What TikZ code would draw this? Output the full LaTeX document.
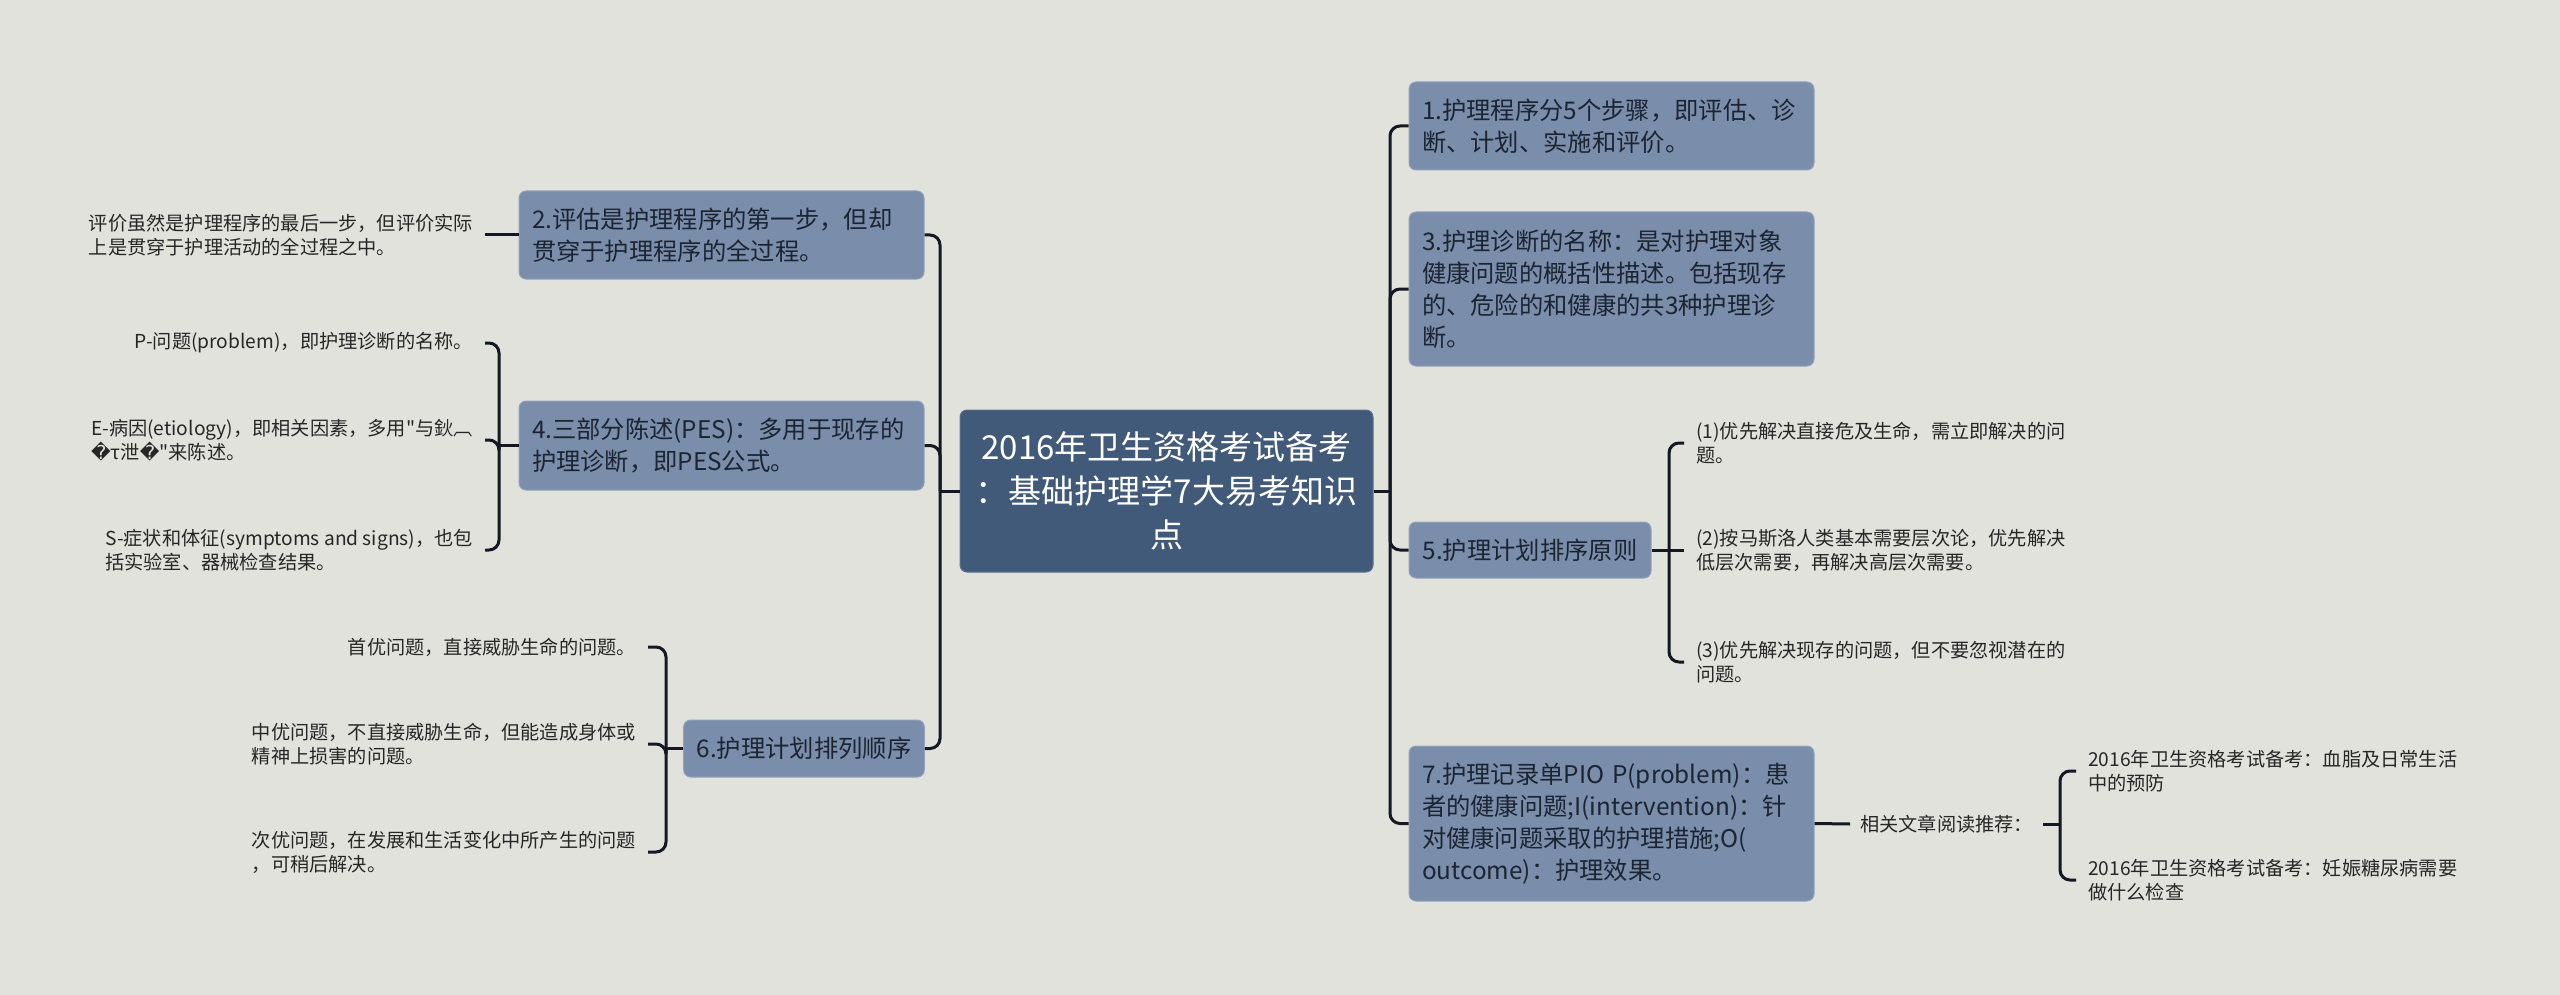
\documentclass[tikz,border=0pt]{standalone}
\usepackage{fontspec}
\newfontfamily\cjk{Noto Sans CJK SC}
\newfontfamily\dejavu{DejaVu Sans}
\usetikzlibrary{calc}
\definecolor{bg}{RGB}{226,226,221}
\definecolor{boxfill}{RGB}{122,141,171}
\definecolor{boxline}{RGB}{146,162,188}
\definecolor{cfill}{RGB}{66,90,121}
\definecolor{cline}{RGB}{90,112,142}
\definecolor{boxtext}{RGB}{28,36,50}
\definecolor{leaftext}{RGB}{38,38,38}
\definecolor{linecol}{RGB}{20,24,34}
\tikzset{
  box/.style={fill=boxfill, draw=boxline, line width=1pt, rounded corners=7pt, text=boxtext,
    font=\cjk\fontsize{24.3}{32}\selectfont, inner xsep=13pt, inner ysep=0pt, align=left},
  cbox/.style={fill=cfill, draw=cline, line width=1pt, rounded corners=7pt, text=white,
    font=\cjk\fontsize{33}{44}\selectfont, inner xsep=10pt, inner ysep=0pt, align=center,
    text width=393pt, minimum height=162pt},
  leaf/.style={font=\cjk\fontsize{19.2}{24}\selectfont, text=leaftext, align=left,
    inner xsep=12pt, inner ysep=2pt},
  conn/.style={draw=linecol, line width=3pt, rounded corners=10pt},
}
\begin{document}
\begin{tikzpicture}[x=1pt,y=-1pt]
\useasboundingbox[fill=bg] (0,0) rectangle (2560,995);

% center
\node[cbox] (c) at (1166.5,491) {2016年卫生资格考试备考\\：基础护理学7大易考知识\\点};

% right boxes
\node[box, text width=379pt, minimum height=88pt] (b1) at (1611.5,126) {1.护理程序分5个步骤，即评估、诊\\断、计划、实施和评价。};
\node[box, text width=379pt, minimum height=154pt] (b3) at (1611.5,289) {3.护理诊断的名称：是对护理对象\\健康问题的概括性描述。包括现存\\的、危险的和健康的共3种护理诊\\断。};
\node[box, align=center, minimum width=242pt, minimum height=56pt] (b5) at (1530,550) {5.护理计划排序原则};
\node[box, text width=379pt, minimum height=155pt] (b7) at (1611.5,823.5) {7.护理记录单PIO~P(problem)：患\\者的健康问题;I(intervention)：针\\对健康问题采取的护理措施;O(\\outcome)：护理效果。};

% left boxes
\node[box, text width=379pt, minimum height=88pt] (b2) at (721.5,235) {2.评估是护理程序的第一步，但却\\贯穿于护理程序的全过程。};
\node[box, text width=379pt, minimum height=89pt] (b4) at (721.5,445.5) {4.三部分陈述(PES)：多用于现存的\\护理诊断，即PES公式。};
\node[box, align=center, minimum width=240pt, minimum height=57pt] (b6) at (804,748.5) {6.护理计划排列顺序};

% left leaves
\node[leaf, anchor=east] (l21) at (485,235) {评价虽然是护理程序的最后一步，但评价实际\\上是贯穿于护理活动的全过程之中。};
\node[leaf, anchor=east] (l4p) at (485,343) {P-问题(problem)，即护理诊断的名称。};
\node[leaf, anchor=east] (l4e) at (485,440) {E-病因(etiology)，即相关因素，多用"与鈥︹\\{\dejavu �}τ泄{\dejavu �}"来陈述。};
\node[leaf, anchor=east] (l4s) at (485,550) {S-症状和体征(symptoms and signs)，也包\\括实验室、器械检查结果。};
\node[leaf, anchor=east] (l61) at (648,647) {首优问题，直接威胁生命的问题。};
\node[leaf, anchor=east] (l62) at (648,744) {中优问题，不直接威胁生命，但能造成身体或\\精神上损害的问题。};
\node[leaf, anchor=east] (l63) at (648,852) {次优问题，在发展和生活变化中所产生的问题\\，可稍后解决。};

% right leaves
\node[leaf, anchor=west] (l51) at (1684,443) {(1)优先解决直接危及生命，需立即解决的问\\题。};
\node[leaf, anchor=west] (l52) at (1684,550) {(2)按马斯洛人类基本需要层次论，优先解决\\低层次需要，再解决高层次需要。};
\node[leaf, anchor=west] (l53) at (1684,662) {(3)优先解决现存的问题，但不要忽视潜在的\\问题。};
\node[leaf, anchor=west, inner xsep=10pt] (rel) at (1850,824) {相关文章阅读推荐：};
\node[leaf, anchor=west] (l71) at (2076,771) {2016年卫生资格考试备考：血脂及日常生活\\中的预防};
\node[leaf, anchor=west] (l72) at (2076,880) {2016年卫生资格考试备考：妊娠糖尿病需要\\做什么检查};

% junctions
\coordinate (rj) at (1390,491);
\coordinate (lj) at (940,491);
\coordinate (j4) at (499,445.5);
\coordinate (j6) at (666,748.5);
\coordinate (j5) at (1669,550);
\coordinate (j7) at (2060,824);

% connectors
\draw[conn] (c.east) -- (rj);
\foreach \n in {b1,b3,b5,b7} \draw[conn] (rj) |- (\n.west);
\draw[conn] (c.west) -- (lj);
\foreach \n in {b2,b4,b6} \draw[conn] (lj) |- (\n.east);

\draw[conn] (b2.west) -- (l21.east);
\draw[conn] (b4.west) -- (j4);
\foreach \n in {l4p,l4e,l4s} \draw[conn] (j4) |- (\n.east);
\draw[conn] (b6.west) -- (j6);
\foreach \n in {l61,l62,l63} \draw[conn] (j6) |- (\n.east);

\draw[conn] (b5.east) -- (l52.west);
\foreach \n in {l51,l53} \draw[conn] (j5) |- (\n.west);
\draw[conn] (b7.east) -- (rel.west);
\draw[conn] (rel.east) -- (j7);
\foreach \n in {l71,l72} \draw[conn] (j7) |- (\n.west);
\end{tikzpicture}
\end{document}
